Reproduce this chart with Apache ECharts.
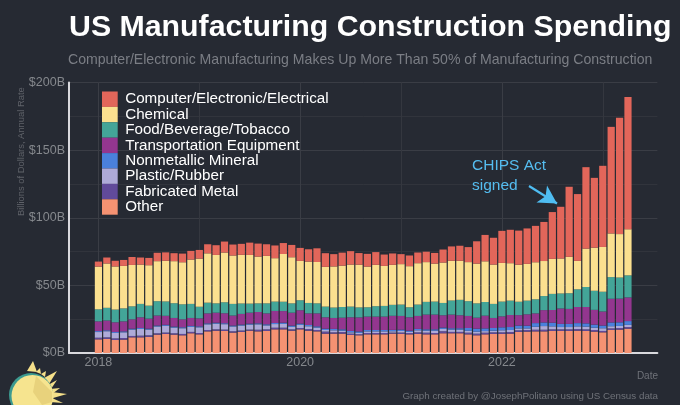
<!DOCTYPE html>
<html><head><meta charset="utf-8">
<style>html,body{margin:0;padding:0;background:#262a33}#c{width:680px;height:405px}</style>
<script src="https://cdn.jsdelivr.net/npm/echarts@6/dist/echarts.min.js"></script></head>
<body><div id="c"></div>
<script>
// Monthly values, Jan 2018 - Apr 2023, $B annual rate
const other=[10.1,10.4,9.6,9.9,11.6,11.6,11.9,13.6,14.1,13.6,13.1,14.6,13.8,16.0,16.5,16.3,15.1,15.6,16.5,16.0,16.3,17.5,
17.5,16.5,17.5,16.5,16.0,14.3,14.3,14.3,13.3,13.1,13.8,13.8,13.8,14.3,14.1,13.8,14.1,13.8,13.8,14.6,14.6,14.6,
13.8,13.1,13.8,14.1,14.1,14.3,15.6,15.8,16.0,16.0,16.3,16.3,16.3,16.5,16.3,15.8,15.3,17.0,17.3,18.0];
const fabricated=[1.2,1.2,1.2,1.2,1.0,1.2,1.2,1.0,1.0,1.0,1.0,1.0,1.0,1.0,1.0,1.0,1.0,1.0,0.8,1.2,1.2,1.2,
1.2,1.0,1.0,1.2,1.0,1.5,1.0,1.2,1.0,0.8,1.0,1.0,1.0,0.8,1.0,1.0,1.2,1.2,1.0,1.5,1.0,1.0,
1.2,1.2,1.2,1.2,1.2,1.2,1.2,1.2,1.2,1.2,1.2,1.2,1.2,1.2,1.2,1.2,1.0,1.2,1.2,1.2];
const plastic=[4.2,4.5,4.0,4.2,4.7,5.0,4.2,5.0,5.0,4.2,4.2,3.7,4.2,4.2,4.2,4.0,3.5,3.7,3.7,4.0,2.9,2.7,
2.8,1.8,2.3,2.1,1.8,1.2,1.5,1.0,1.0,1.0,1.2,1.2,1.2,1.0,1.2,0.8,1.5,1.5,1.7,1.7,1.7,1.7,
1.4,1.5,1.2,1.2,1.5,1.5,1.4,1.2,2.2,2.7,2.2,1.7,1.7,2.0,2.0,1.7,2.0,1.6,1.5,1.6];
const nonmetallic=[0.7,0.7,0.7,0.7,0.7,0.7,0.7,0.7,0.7,0.7,0.7,0.7,0.7,0.7,0.7,0.7,0.7,0.7,0.7,0.7,0.8,0.8,
0.9,0.9,0.9,0.9,0.9,1,1,1,1,1,1,1,1,1,1,0.9,1,1,1,1,1,1,
2.1,2.2,2.0,2.0,2.2,2.2,2.1,2.0,2.7,2.7,2.7,2.3,2.3,2.4,2.4,2.3,2.0,2.8,2.7,2.8];
const transportation=[7.2,7.2,7.2,7.4,6.9,7.9,7.4,7.4,6.7,6.4,5.9,5.9,5.9,7.4,7.4,7.4,7.4,7.9,8.1,8.4,8.1,8.9,
8.6,9.6,9.9,8.6,9.6,8.4,8.1,8.6,10.1,10.4,9.9,9.9,9.9,10.4,10.1,9.9,9.6,10.9,10.9,9.1,10.1,9.6,
8.9,8.1,9.4,7.4,8.1,8.9,7.7,8.4,7.2,9.1,9.4,11.4,11.1,11.9,12.1,10.9,10.4,17.5,17.5,17.5];
const food=[8.9,9.4,9.4,9.6,9.6,9.9,9.6,10.6,10.6,10.9,11.1,10.4,8.6,7.9,6.9,8.1,8.6,7.7,6.7,6.4,7.4,6.9,
6.9,6.9,7.4,7.7,7.4,7.9,7.7,7.9,7.9,7.4,6.9,7.7,7.9,8.1,8.4,7.4,8.4,9.4,9.6,9.1,10.4,11.4,
10.9,10.6,10.1,10.4,10.9,10.6,9.9,10.1,10.4,10.4,11.9,11.1,11.6,13.1,14.8,14.1,14.6,16.0,15.6,16.3];
const chemical=[31.6,32.8,31.9,31.4,30.6,29.1,29.9,29.6,30.1,31.1,31.1,32.8,35.6,36.5,35.8,36.8,35.8,36.0,36.0,34.6,35.1,32.1,
35.3,34.1,29.1,30.6,30.6,29.4,30.4,30.6,31.1,31.6,30.1,30.6,29.6,29.6,29.9,30.4,30.6,29.4,28.1,29.9,29.4,28.9,
28.9,29.4,30.1,29.1,28.6,27.7,27.4,27.2,27.4,25.9,25.9,25.9,26.9,21.0,28.4,31.9,33.1,32.3,32.1,34.1];
const computer=[3.7,4.4,4.2,4.4,5.9,5.2,5.4,6.2,6.2,5.9,6.4,6.4,6.4,6.7,7.2,8.1,8.1,8.1,9.1,9.6,8.6,9.4,
8.1,9.1,9.6,9.1,10.1,10.1,9.1,9.6,9.9,8.6,9.4,9.4,8.4,8.4,7.4,7.9,7.9,7.7,7.9,9.6,10.6,11.1,
11.1,16.5,19.5,19.8,23.7,24.7,25.2,26.2,26.9,28.9,34.6,38.2,51.8,49.4,60.2,51.6,60.0,78.8,86.1,97.8];
const padBefore=['p1','p2','p3'];
const padAfter=['p4','p5','p6'];
const months=[];
for(let y=2018;y<=2023;y++)for(let m=1;m<=12;m++){if(y===2023&&m>4)break;months.push(y+'-'+(m<10?'0':'')+m);}
const categories=[...padBefore,...months,...padAfter];
const gridYears=['2018-01','2019-01','2020-01','2021-01','2022-01','2023-01'];
const labelYears=['2018-01','2020-01','2022-01'];
const layers=[
 ['Other',other,'#f59272'],
 ['Fabricated Metal',fabricated,'#614a9a'],
 ['Plastic/Rubber',plastic,'#aeaad8'],
 ['Nonmetallic Mineral',nonmetallic,'#4a80dc'],
 ['Transportation Equipment',transportation,'#93368f'],
 ['Food/Beverage/Tobacco',food,'#43a598'],
 ['Chemical',chemical,'#fbe08f'],
 ['Computer/Electronic/Electrical',computer,'#e2665a']
];
const BG='#262a33';
const series=layers.map(([name,vals,color])=>({
  name,type:'bar',stack:'t',barWidth:7.2,silent:true,
  itemStyle:{color},
  data:[...padBefore.map(()=>null),...vals,...padAfter.map(()=>null)]
}));
series[7].markLine={silent:true,symbol:['none','arrow'],symbolSize:[15,18],label:{show:false},
  lineStyle:{color:'#4fbdf2',width:2.2,type:'solid'},
  data:[[{x:529,y:186},{x:557,y:203.5}]],animation:false};
const rays=[[[27,371],[33,361],[37,372]],[[36,372],[40,368],[41,374]],[[41,374],[46,371],[45,377]],
 [[44,378],[57,371],[49,384]],[[48,385],[57,380],[51,389]],[[50,389],[60,388],[52,394]],
 [[52,392],[67,394],[53,398]],[[52,398],[63,403],[50,402]]];
const graphic=[
 {type:'text',z:100,x:69,y:13,style:{text:'US Manufacturing Construction Spending',fill:'#fff',font:'bold 30.3px "Liberation Sans"'}},
 {type:'text',z:100,x:68,y:53,style:{text:'Computer/Electronic Manufacturing Makes Up More Than 50% of Manufacturing Construction',fill:'#7b7e85',font:'14.1px "Liberation Sans"'}},
 {type:'text',z:100,x:472,y:155.5,style:{text:'CHIPS Act\nsigned',fill:'#55bdf0',font:'15.5px "Liberation Sans"',lineHeight:20}},
 {type:'text',z:100,x:658,y:371,style:{text:'Date',fill:'#6f7279',font:'10px "Liberation Sans"',align:'right'}},
 {type:'text',z:100,x:658,y:391,style:{text:'Graph created by @JosephPolitano using US Census data',fill:'#6f7279',font:'9.8px "Liberation Sans"',align:'right'}},
 {type:'text',z:100,x:16.5,y:216,rotation:Math.PI/2,style:{text:'Billions of Dollars, Annual Rate',fill:'#5f6269',font:'9.4px "Liberation Sans"'}},
 ...rays.map(p=>({type:'polygon',z:100,shape:{points:p},style:{fill:'#f5e08a'}})),
 {type:'circle',z:100,shape:{cx:31,cy:395,r:22},style:{fill:'#3c9a90'}},
 {type:'circle',z:100,shape:{cx:32.5,cy:396,r:21},style:{fill:'#f6e48f'}},
 {type:'polygon',z:100,shape:{points:[[36,376],[52,392],[52,402],[42,405],[33,392]]},style:{fill:'#e8d27c'}}
];
const xBase={type:'category',data:categories,boundaryGap:true};
const chart=echarts.init(document.getElementById('c'),null,{renderer:'canvas'});
chart.setOption({
  animation:false,backgroundColor:BG,
  grid:{left:69,top:82.5,width:588.4,height:270.5,containLabel:false},
  legend:{left:97,top:86.5,orient:'vertical',itemWidth:15.7,itemHeight:15.4,itemGap:0,icon:'rect',
    data:layers.map(l=>l[0]).reverse(),selectedMode:false,
    textStyle:{color:'#fff',fontFamily:'Liberation Sans',fontSize:15.2,padding:[0,0,0,2.5],lineHeight:15.4}},
  xAxis:[
   {...xBase,
    axisLine:{show:true,lineStyle:{color:'#d9d9de',width:2}},
    axisTick:{show:false},
    axisLabel:{interval:(i,v)=>labelYears.includes(v),color:'#85888d',fontFamily:'Liberation Sans',fontSize:12.5,margin:3,
      formatter:v=>v.slice(0,4)},
    splitLine:{show:true,alignWithLabel:true,interval:(i,v)=>gridYears.includes(v),lineStyle:{color:'#34373f',width:1}}},
   {...xBase,position:'bottom',
    axisLine:{show:false},axisTick:{show:false},axisLabel:{show:false},
    splitLine:{show:true,alignWithLabel:true,interval:(i,v)=>labelYears.includes(v),lineStyle:{color:'#3a3d45',width:1}}}
  ],
  yAxis:{type:'value',min:0,max:200,interval:50,
    axisLine:{show:true,lineStyle:{color:'#d9d9de',width:2}},
    axisTick:{show:false},
    axisLabel:{color:'#85888d',fontFamily:'Liberation Sans',fontSize:12.5,margin:4,formatter:v=>'$'+v+'B'},
    splitLine:{show:true,lineStyle:{color:'#3a3d45',width:1}},
    minorTick:{show:false,splitNumber:2},
    minorSplitLine:{show:true,lineStyle:{color:'#31343c',width:1}}},
  series,graphic
});
</script></body></html>
